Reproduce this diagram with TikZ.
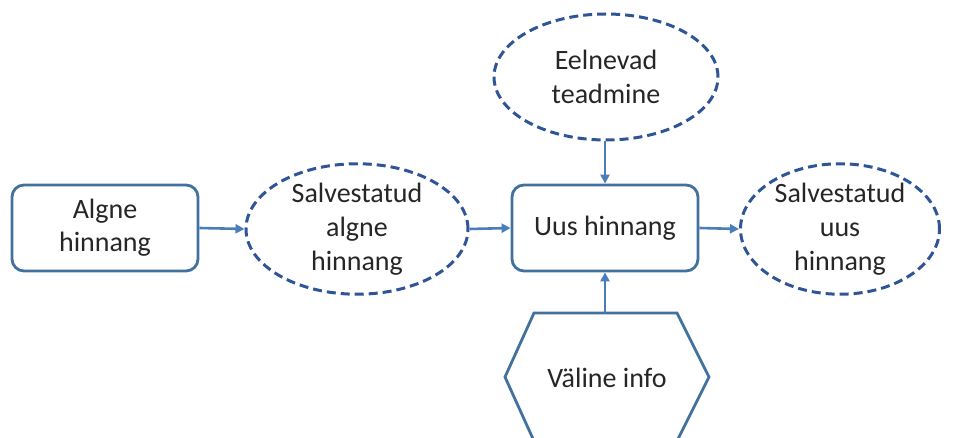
\documentclass[tikz,border=0pt]{standalone}
\usepackage{fontspec}
\setmainfont{Carlito}
\usetikzlibrary{shapes.geometric,arrows.meta}
\definecolor{boxblue}{HTML}{41719C}
\definecolor{dashblue}{HTML}{2F5597}
\definecolor{arrowblue}{HTML}{4A7EBB}
\definecolor{txt}{HTML}{262626}
\tikzset{
  rbox/.style={draw=boxblue, line width=2.8pt, rounded corners=12pt, minimum width=186pt, minimum height=86pt, align=center, text=txt, font=\fontsize{28}{33}\selectfont, fill=white},
  dell/.style={ellipse, draw=dashblue, line width=3pt, dash pattern=on 9pt off 5pt, align=center, text=txt, font=\fontsize{28}{34}\selectfont, inner sep=0pt},
  conn/.style={draw=arrowblue, line width=2.6pt, -{Triangle[length=9pt,width=9pt]}},
  lbl/.style={align=center, text=txt, font=\fontsize{28}{34}\selectfont}
}
\begin{document}
\begin{tikzpicture}[x=1pt,y=-1pt]
\useasboundingbox (0,0) rectangle (954,438);
\clip (0,0) rectangle (954,438);
\node[rbox] (algne) at (105,228) {Algne\\hinnang};
\node[dell, minimum width=222pt, minimum height=122pt] (salg) at (357,229) {Salvestatud\\algne\\hinnang};
\node[rbox] (uus) at (605,228) {Uus hinnang};
\node[dell, minimum width=199pt, minimum height=122pt] (suus) at (840,229) {Salvestatud\\uus\\hinnang};
\node[dell, minimum width=224pt, minimum height=126pt] (eel) at (606,77) {Eelnevad\\teadmine};
\draw[boxblue, line width=2.8pt, line join=miter] (534,313) -- (677,313) -- (709,377) -- (677,441) -- (534,441) -- (505,377) -- cycle;
\node[lbl] (hex) at (607,378) {Väline info};
\coordinate (hextop) at (605,313);
\draw[conn] (algne.east) -- (salg.west);
\draw[conn] (salg.east) -- (uus.west);
\draw[conn] (uus.east) -- (suus.west);
\draw[conn] (eel.south -| uus.north) -- (uus.north);
\draw[conn] (hextop) -- (uus.south);
\end{tikzpicture}
\end{document}
